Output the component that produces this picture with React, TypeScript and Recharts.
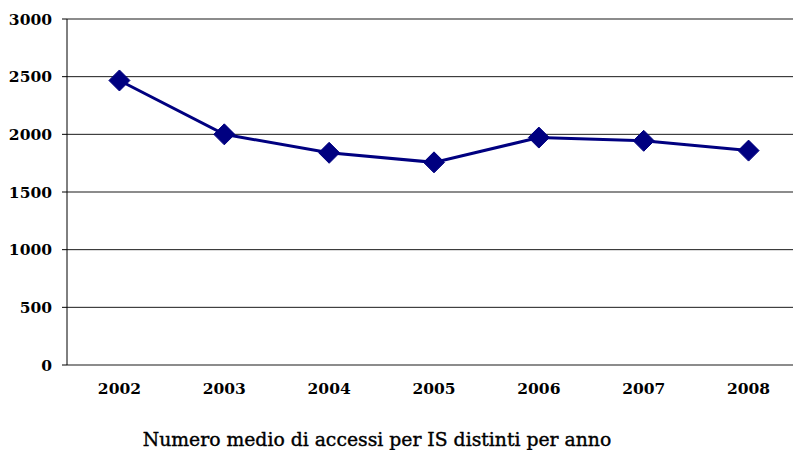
import React from 'react';
import { LineChart, Line, XAxis, YAxis, CartesianGrid } from 'recharts';

// Values
const years = ['2002', '2003', '2004', '2005', '2006', '2007', '2008'];
const accessi = [2467, 2000, 1840, 1757, 1972, 1944, 1859];
const yTicks = [0, 500, 1000, 1500, 2000, 2500, 3000];

const title = 'Numero medio di accessi per IS distinti per anno';

const data = years.map((year, i) => ({ idx: i, year, value: accessi[i] }));
const centerTicks = years.map((_, i) => i);
const boundaryTicks = [...years.map((_, i) => i - 0.5), years.length - 0.5];

const NAVY = '#000080';
const FONT = '"DejaVu Serif", serif';

const Diamond = (props: any) => {
  const { cx, cy } = props;
  if (cx == null || cy == null) return null;
  const r = 10.5;
  return (
    <polygon
      points={`${cx},${cy - r} ${cx + r},${cy} ${cx},${cy + r} ${cx - r},${cy}`}
      fill={NAVY}
      stroke={NAVY}
    />
  );
};

export default function App() {
  return (
    <div
      style={{
        position: 'relative',
        width: 793,
        height: 450,
        overflow: 'hidden',
        background: '#fff',
      }}
    >
      <style>{'body { margin: 0; overflow: hidden; }'}</style>
      <LineChart
        width={801}
        height={430}
        data={data}
        margin={{ top: 19, right: 0, left: 0, bottom: 0 }}
      >
        <CartesianGrid horizontal vertical={false} stroke="#000" strokeOpacity={0.9} />

        {/* tick marks at category boundaries */}
        <XAxis
          xAxisId="bounds"
          type="number"
          dataKey="idx"
          domain={[-0.5, years.length - 0.5]}
          ticks={boundaryTicks}
          tickFormatter={() => ''}
          height={0}
          tickSize={5}
          axisLine={{ stroke: '#000' }}
          tickLine={{ stroke: '#000' }}
        />

        {/* year labels */}
        <XAxis
          xAxisId="labels"
          type="number"
          dataKey="idx"
          domain={[-0.5, years.length - 0.5]}
          ticks={centerTicks}
          interval={0}
          tickFormatter={(v: number) => years[v]}
          axisLine={false}
          tickLine={false}
          tickSize={0}
          tickMargin={18}
          height={65}
          tick={{ fontFamily: FONT, fontSize: 15.5, fontWeight: 'bold', fill: '#000' }}
        />

        <YAxis
          domain={[0, 3000]}
          ticks={yTicks}
          interval={0}
          width={67}
          tickSize={5}
          tickMargin={10}
          axisLine={{ stroke: '#000' }}
          tickLine={{ stroke: '#000' }}
          tick={{ fontFamily: FONT, fontSize: 15.5, fontWeight: 'bold', fill: '#000' }}
        />

        <Line
          xAxisId="labels"
          type="linear"
          dataKey="value"
          stroke={NAVY}
          strokeWidth={3}
          dot={<Diamond />}
          activeDot={false}
          isAnimationActive={false}
        />
      </LineChart>

      <div
        style={{
          position: 'absolute',
          top: 430,
          left: 0,
          width: 754,
          textAlign: 'center',
          fontFamily: FONT,
          fontSize: 18.8,
          lineHeight: '20px',
          color: '#000',
          WebkitTextStroke: '0.4px #000',
          whiteSpace: 'nowrap',
        }}
      >
        {title}
      </div>
    </div>
  );
}
